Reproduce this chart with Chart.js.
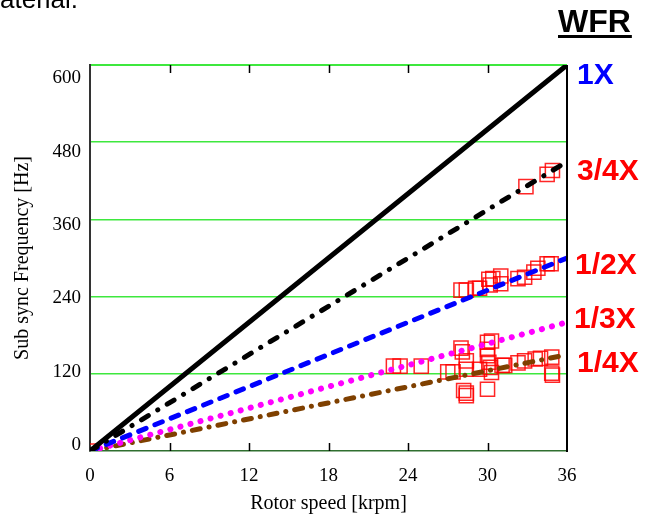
<!DOCTYPE html>
<html>
<head>
<meta charset="utf-8">
<script src="https://cdn.jsdelivr.net/npm/chart.js@4/dist/chart.umd.min.js"></script>
<style>
  html, body { margin: 0; padding: 0; background: #ffffff; }
  #wrap { position: relative; width: 653px; height: 517px; }
</style>
</head>
<body>
<div id="wrap"><canvas id="chart" width="653" height="517"></canvas></div>
<script>
// Order lines: rotor speed [krpm] -> frequency [Hz]
const speed1X = [0, 36];
const freq1X = [0, 600];
const speed3q = [0, 35.7];
const freq3q = [0, 446];
const speedHalf = [0, 36];
const freqHalf = [0, 300];
const speedThird = [0, 36];
const freqThird = [0, 200];
const speedQuarter = [0, 35.6];
const freqQuarter = [0, 148];

// Measured sub-synchronous peaks
const measuredSpeed = [
  0,
  32.9, 34.5, 34.9,
  28.0, 28.4, 29.1, 29.4, 30.1, 30.2, 30.4, 31.0, 31.0, 32.3, 32.8, 33.5, 33.8, 34.5, 34.8,
  22.9, 23.4, 25.0, 27.0, 27.4, 28.0, 28.1, 28.4, 28.4, 28.2, 28.4, 28.4, 29.4,
  30.0, 30.3, 30.0, 30.0, 30.1, 30.2, 30.3, 30.0, 31.1, 31.3, 32.3, 32.8, 33.6, 34.0, 34.85, 34.85, 34.9
];
const measuredFreq = [
  0,
  411, 430, 436,
  250, 250, 253, 253, 267, 258, 268, 272, 260, 268, 270, 278, 284, 291, 291,
  132, 132, 132, 123, 123, 160, 154, 140, 127, 94, 90, 86, 127,
  169, 171, 158, 148, 138, 130, 122, 96, 133, 133, 137, 140, 143, 144, 146, 121, 118
];

const xTickValues = [0, 6, 12, 18, 24, 30, 36];
const yTickValues = [0, 120, 240, 360, 480, 600];
const orderNames = ['1X', '3/4X', '1/2X', '1/3X', '1/4X'];

const toPoints = (xs, ys) => xs.map((x, i) => ({ x: x, y: ys[i] }));

const GRID_GREEN = '#3ee83e';
const SERIF = '"Liberation Serif", "Times New Roman", serif';
const SANS = '"Liberation Sans", Arial, sans-serif';

function orderLine(label, xs, ys, color, width, dash, order) {
  return {
    label: label,
    data: toPoints(xs, ys),
    showLine: true,
    borderColor: color,
    borderWidth: width,
    borderDash: dash,
    borderCapStyle: 'round',
    borderJoinStyle: 'round',
    pointRadius: 0,
    pointHoverRadius: 0,
    fill: false,
    order: order
  };
}

// Inside tick marks, right frame edge, order labels and headings
const decorations = {
  id: 'decorations',
  afterDraw(chart) {
    const { ctx, chartArea: a, scales } = chart;
    const xs = scales.x;
    ctx.save();

    // tick marks pointing into the plot, top and bottom
    ctx.strokeStyle = '#000000';
    ctx.lineWidth = 1.5;
    xTickValues.slice(1, -1).forEach(v => {
      const px = Math.round(xs.getPixelForValue(v)) + 0.5;
      ctx.beginPath();
      ctx.moveTo(px, a.bottom);
      ctx.lineTo(px, a.bottom - 8);
      ctx.moveTo(px, a.top);
      ctx.lineTo(px, a.top + 8);
      ctx.stroke();
    });

    // right frame edge
    ctx.lineWidth = 2;
    ctx.beginPath();
    ctx.moveTo(a.right, a.top);
    ctx.lineTo(a.right, a.bottom + 1);
    ctx.stroke();

    // order labels to the right of the plot
    const labelY = [76, 172, 266, 320, 364];
    const labelX = [577, 577, 575, 574, 577];
    ctx.font = 'bold 30px ' + SANS;
    ctx.textBaseline = 'middle';
    ctx.textAlign = 'left';
    orderNames.forEach((name, i) => {
      ctx.fillStyle = i === 0 ? '#0000ff' : '#ff0000';
      ctx.fillText(name, labelX[i], labelY[i]);
    });

    // WFR heading with underline
    ctx.fillStyle = '#000000';
    ctx.font = 'bold 32px ' + SANS;
    ctx.textBaseline = 'alphabetic';
    ctx.fillText('WFR', 558, 32);
    const w = ctx.measureText('WFR').width;
    ctx.fillRect(558, 35, w + 1, 3);

    // running text above the chart
    ctx.font = '26px ' + SANS;
    ctx.fillText('aterial.', 0, 8);

    ctx.restore();
  }
};

new Chart(document.getElementById('chart'), {
  type: 'scatter',
  data: {
    datasets: [
      orderLine('1X', speed1X, freq1X, '#000000', 5, [], 0),
      orderLine('3/4X', speed3q, freq3q, '#000000', 5, [8, 11, 0.1, 11], 1),
      orderLine('1/2X', speedHalf, freqHalf, '#0000ff', 5, [8, 9.5], 2),
      orderLine('1/3X', speedThird, freqThird, '#ff00ff', 6, [0.1, 10.3], 3),
      orderLine('1/4X', speedQuarter, freqQuarter, '#7f4000', 5, [8, 9, 0.1, 9], 4),
      {
        label: 'measured',
        data: toPoints(measuredSpeed, measuredFreq),
        pointStyle: 'rect',
        pointRadius: 10,
        pointHoverRadius: 10,
        pointBorderWidth: 1.5,
        borderColor: 'rgba(255,0,0,0.85)',
        backgroundColor: 'rgba(0,0,0,0)',
        showLine: false,
        order: 10
      }
    ]
  },
  options: {
    responsive: false,
    animation: false,
    events: [],
    layout: { padding: { left: 0, right: 86, top: 65, bottom: 0 } },
    plugins: {
      legend: { display: false },
      tooltip: { enabled: false }
    },
    scales: {
      x: {
        type: 'linear',
        position: 'bottom',
        min: 0,
        max: 36,
        afterBuildTicks: s => { s.ticks = xTickValues.map(v => ({ value: v })); },
        afterFit: s => { s.height = 66; },
        grid: { display: false, drawTicks: false },
        border: { display: true, color: '#2f6f2f', width: 1.5 },
        ticks: {
          color: '#000000',
          font: { family: SERIF, size: 19 },
          padding: 14,
          maxRotation: 0
        },
        title: {
          display: true,
          text: 'Rotor speed [krpm]',
          color: '#000000',
          font: { family: SERIF, size: 20 },
          padding: { top: 0, bottom: 1 }
        }
      },
      y: {
        type: 'linear',
        position: 'left',
        weight: 0,
        min: 0,
        max: 600,
        afterBuildTicks: s => { s.ticks = yTickValues.map(v => ({ value: v })); },
        afterFit: s => { s.width = 0; },
        grid: {
          drawTicks: false,
          color: c => (c.tick && c.tick.value === 0) ? 'rgba(0,0,0,0)' : GRID_GREEN,
          lineWidth: c => (c.tick && c.tick.value === 600) ? 2 : 1.5
        },
        border: { display: true, color: '#333333', width: 2 },
        ticks: { display: false }
      },
      yLabels: {
        type: 'linear',
        position: 'left',
        weight: 1,
        min: -9,
        max: 621.3,
        afterBuildTicks: s => { s.ticks = yTickValues.map(v => ({ value: v })); },
        afterFit: s => { s.width = 90; },
        grid: { display: false, drawTicks: false },
        border: { display: false },
        ticks: {
          color: '#000000',
          font: { family: SERIF, size: 19 },
          padding: 9
        },
        title: {
          display: true,
          text: 'Sub sync Frequency [Hz]',
          color: '#000000',
          font: { family: SERIF, size: 20 },
          padding: { top: 11, bottom: 0 }
        }
      }
    }
  },
  plugins: [decorations]
});
</script>
</body>
</html>
